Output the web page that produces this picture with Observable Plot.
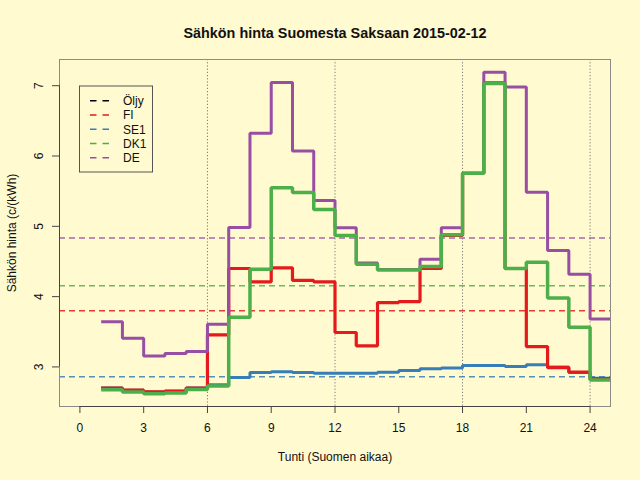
<!DOCTYPE html>
<html><head><meta charset="utf-8">
<script src="https://cdn.jsdelivr.net/npm/d3@7"></script>
<script src="https://cdn.jsdelivr.net/npm/@observablehq/plot@0.6"></script>
<style>
body{margin:0;background:#FFFAD0;}
#chart{width:640px;height:480px;}
</style>
</head><body><div id="chart"></div>
<script>
const titleText = "Sähkön hinta Suomesta Saksaan 2015-02-12";
const xLabel = "Tunti (Suomen aikaa)";
const yLabel = "Sähkön hinta (c/(kWh)";
const hours = [1,2,3,4,5,6,7,8,9,10,11,12,13,14,15,16,17,18,19,20,21,22,23,24];
const xlim = [0, 24];
const xTicks = [0,3,6,9,12,15,18,21,24];
const yTicks = [3,4,5,6,7];
const gridHours = [6,12,18,24];

const fi  = [2.70,2.67,2.645,2.655,2.70,3.455,4.40,4.21,4.41,4.23,4.21,3.49,3.30,3.915,3.93,4.40,4.87,5.755,7.04,4.40,3.29,2.99,2.925,2.83];
const se1 = [2.70,2.67,2.645,2.655,2.70,2.748,2.848,2.92,2.93,2.92,2.91,2.91,2.91,2.925,2.95,2.975,2.985,3.02,3.02,3.005,3.03,3.0,2.92,2.84];
const dk1 = [2.675,2.645,2.62,2.628,2.68,2.73,3.707,4.39,5.55,5.48,5.24,4.87,4.46,4.38,4.38,4.43,4.88,5.755,7.03,4.40,4.49,3.98,3.565,2.815];
const de  = [3.644,3.408,3.156,3.19,3.218,3.607,4.982,6.324,7.044,6.073,5.366,4.98,4.479,4.385,4.385,4.53,4.98,5.755,7.19,6.98,5.485,4.655,4.32,3.68];

const seriesNames = ["Öljy","FI","SE1","DK1","DE"];
const seriesColors = ["#000000","#E41A1C","#377EB8","#4DAF4A","#984EA3"];
const averages = {FI:3.80, SE1:2.862, DK1:4.156, DE:4.835};

// step data: repeat last value one hour further so the final step is drawn
function stepRows(name, vals){
  const r = hours.map((h,i)=>({h, v:vals[i], s:name}));
  r.push({h: hours[hours.length-1]+1, v: vals[vals.length-1], s:name});
  return r;
}
const colorOf = n => seriesColors[seriesNames.indexOf(n)];

const allVals = [...fi,...se1,...dk1,...de];
const ext = d3.extent(allVals);
const ypad = (ext[1]-ext[0])*0.04, xpad = (xlim[1]-xlim[0])*0.04;
const yDomain = [ext[0]-ypad, ext[1]+ypad];
const xDomain = [xlim[0]-xpad, xlim[1]+xpad];

const avgRows = Object.entries(averages).map(([s,v])=>({s,v}));
const font = "Liberation Sans, Arial, Helvetica, sans-serif";

const lineOpts = (w) => ({x:"h", y:"v", stroke: d=>colorOf(d.s), curve:"step-after", strokeWidth:w, clip:true, strokeLinejoin:"miter", strokeLinecap:"butt"});

const plot = Plot.plot({
  width:640, height:480,
  marginLeft:59, marginRight:30, marginTop:59, marginBottom:74,
  style:{background:"#FFFAD0", fontFamily:font, fontSize:"12px", color:"#111"},
  x:{domain:xDomain, axis:null},
  y:{domain:yDomain, axis:null},
  marks:[
    Plot.ruleX(gridHours, {stroke:"#7a7a7a", strokeDasharray:"1.2,2", strokeWidth:1}),
    Plot.ruleY(avgRows, {y:"v", stroke:d=>colorOf(d.s), strokeDasharray:"6,4", strokeWidth:1.5, strokeOpacity:0.85}),
    Plot.line(stepRows("SE1", se1), lineOpts(3)),
    Plot.line(stepRows("FI", fi), lineOpts(3.2)),
    Plot.line(stepRows("DE", de), lineOpts(3)),
    Plot.line(stepRows("DK1", dk1), lineOpts(3.5)),
    Plot.frame({stroke:"#8c8c84", strokeWidth:1}),
    Plot.ruleY([yDomain[0]], {x1:xTicks[0], x2:xTicks[xTicks.length-1], stroke:"#444"}),
    Plot.ruleX([xDomain[0]], {y1:yTicks[0], y2:yTicks[yTicks.length-1], stroke:"#444"}),
    Plot.axisX({ticks:xTicks, tickSize:7, tickFormat:()=>"", stroke:"#444", label:null}),
    Plot.axisY({ticks:yTicks, tickSize:7, tickFormat:()=>"", stroke:"#444", label:null}),
    Plot.text(xTicks, {x:d=>d, text:d=>String(d), frameAnchor:"bottom", dy:22, lineAnchor:"middle", fill:"#111", fontSize:12}),
    Plot.text(yTicks, {y:d=>d, text:d=>String(d), frameAnchor:"left", dx:-20, rotate:-90, textAnchor:"middle", lineAnchor:"middle", fill:"#111", fontSize:12}),
    Plot.text([titleText], {frameAnchor:"top", dy:-26, lineAnchor:"middle", fontWeight:"bold", fontSize:14.4, fill:"#111"}),
    Plot.text([xLabel], {frameAnchor:"bottom", dy:51, lineAnchor:"middle", fontSize:12, fill:"#111"}),
    Plot.text([yLabel], {frameAnchor:"left", dx:-47, rotate:-90, textAnchor:"middle", lineAnchor:"middle", fontSize:12, fill:"#111"})
  ]
});
document.getElementById("chart").appendChild(plot);

// legend
const lg = d3.select(plot).append("g").attr("font-family", font).attr("font-size", 12).attr("text-anchor","start");
lg.append("rect").attr("x",79.5).attr("y",86).attr("width",73).attr("height",86)
  .attr("fill","none").attr("stroke","#555");
seriesNames.forEach((n,i)=>{
  const y = 100.8 + i*14.25;
  lg.append("line").attr("x1",90).attr("x2",109).attr("y1",y).attr("y2",y)
    .attr("stroke",seriesColors[i]).attr("stroke-width",1.6).attr("stroke-dasharray","6.5,6");
  lg.append("text").attr("x",123).attr("y",y).attr("dy","0.36em").attr("text-anchor","start").attr("fill","#111").text(n);
});
</script>
</body></html>
